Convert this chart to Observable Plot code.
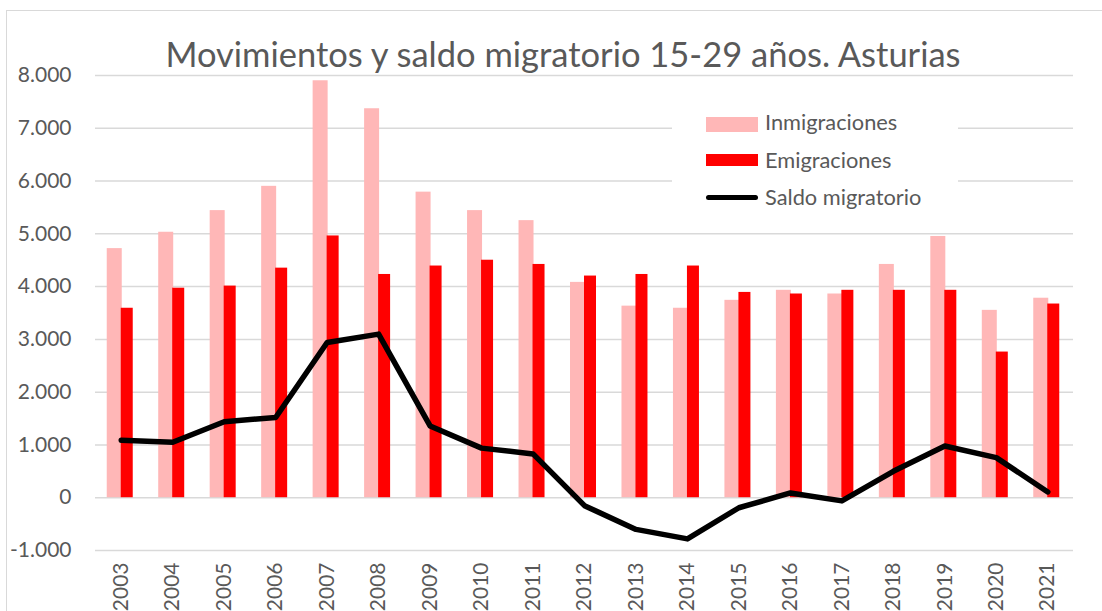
<!DOCTYPE html>
<html>
<head>
<meta charset="utf-8">
<script src="https://cdn.jsdelivr.net/npm/d3@7"></script>
<script src="https://cdn.jsdelivr.net/npm/@observablehq/plot@0.6"></script>
<style>
  html, body { margin: 0; padding: 0; background: #fff; overflow: hidden; }
  #wrap { position: relative; width: 1102px; height: 611px; font-family: Lato, "Open Sans", sans-serif; color: #595959; }
  #frame { position: absolute; left: 6px; top: 10px; width: 1200px; height: 800px; border: 1.5px solid #d9d9d9; box-sizing: border-box; }
  #title { position: absolute; left: 0; width: 1126px; top: 33px; text-align: center; font-size: 34.5px; line-height: 42px; color: #595959; white-space: nowrap; }
  #legend { position: absolute; left: 672px; top: 96px; width: 286px; height: 120px; background: #fff; }
  .li { position: absolute; left: 0; height: 30px; font-size: 21.8px; line-height: 30px; white-space: nowrap; }
  .sw { position: absolute; left: 34px; width: 52px; }
  .lt { position: absolute; left: 93px; top: 0; }
  #chart { position: absolute; left: 0; top: 0; }
</style>
</head>
<body>
<div id="wrap">
  <div id="frame"></div>
  <div id="chart"></div>
  <div id="title"></div>
  <div id="legend"></div>
</div>
<script>
const titleText = "Movimientos y saldo migratorio 15-29 años. Asturias";
const years = ["2003","2004","2005","2006","2007","2008","2009","2010","2011","2012","2013","2014","2015","2016","2017","2018","2019","2020","2021"];
const inmigraciones = [4720, 5030, 5440, 5900, 7900, 7370, 5790, 5440, 5250, 4080, 3630, 3590, 3740, 3930, 3860, 4420, 4950, 3550, 3780];
const emigraciones = [3590, 3970, 4010, 4350, 4960, 4230, 4390, 4500, 4420, 4200, 4230, 4390, 3890, 3860, 3930, 3930, 3930, 2760, 3670];
const saldo = [1090, 1050, 1440, 1520, 2940, 3100, 1360, 940, 830, -150, -600, -780, -190, 90, -60, 500, 980, 760, 110];
const seriesNames = ["Inmigraciones", "Emigraciones", "Saldo migratorio"];
const seriesColors = ["#FFB7B7", "#FF0000", "#000000"];
const yTicks = [-1000, 0, 1000, 2000, 3000, 4000, 5000, 6000, 7000, 8000];

const data = years.map((y, i) => ({year: y, inm: inmigraciones[i], emi: emigraciones[i], saldo: saldo[i]}));
const fmt = d3.formatLocale({decimal: ",", thousands: ".", grouping: [3], currency: ["", "€"], minus: "-"}).format(",d");

const W = 1102, H = 611;
const mL = 95, mR = 29, mT = 75, mB = 61;
const bw = (W - mL - mR) / years.length;
const half = bw / 2;

const chart = Plot.plot({
  width: W, height: H,
  marginLeft: mL, marginRight: mR, marginTop: mT, marginBottom: mB,
  style: {fontFamily: "Lato, 'Open Sans', sans-serif", fontSize: "21px", color: "#595959", background: "transparent", overflow: "visible"},
  x: {type: "band", domain: years, padding: 0, round: false, label: null},
  y: {domain: [-1000, 8000], label: null},
  marks: [
    Plot.gridY(yTicks, {stroke: "#d9d9d9", strokeOpacity: 1, strokeWidth: 1.5}),
    Plot.barY(data, {x: "year", y: "inm", fill: seriesColors[0], insetLeft: half - 14, insetRight: half - 1}),
    Plot.barY(data, {x: "year", y: "emi", fill: seriesColors[1], insetLeft: half, insetRight: half - 12}),
    Plot.line(data, {x: "year", y: "saldo", stroke: seriesColors[2], strokeWidth: 5.5, strokeLinecap: "round", strokeLinejoin: "round"}),
    Plot.axisY(yTicks, {tickSize: 0, tickPadding: 24, tickFormat: fmt, label: null, fill: "#595959"}),
    Plot.axisX({tickSize: 0, tickRotate: -90, tickPadding: 12, label: null, fill: "#595959"})
  ]
});
document.getElementById("chart").appendChild(chart);

document.getElementById("title").textContent = titleText;

const legend = document.getElementById("legend");
const rows = [
  {top: 11, swTop: 10, swH: 15},
  {top: 49, swTop: 9, swH: 12},
  {top: 86, swTop: 13, swH: 5}
];
seriesNames.forEach((name, i) => {
  const li = document.createElement("div");
  li.className = "li";
  li.style.top = rows[i].top + "px";
  const sw = document.createElement("div");
  sw.className = "sw";
  sw.style.top = rows[i].swTop + "px";
  sw.style.height = rows[i].swH + "px";
  sw.style.background = seriesColors[i];
  if (i === 2) sw.style.borderRadius = "3px";
  const t = document.createElement("div");
  t.className = "lt";
  t.textContent = name;
  li.appendChild(sw); li.appendChild(t);
  legend.appendChild(li);
});
</script>
</body>
</html>
